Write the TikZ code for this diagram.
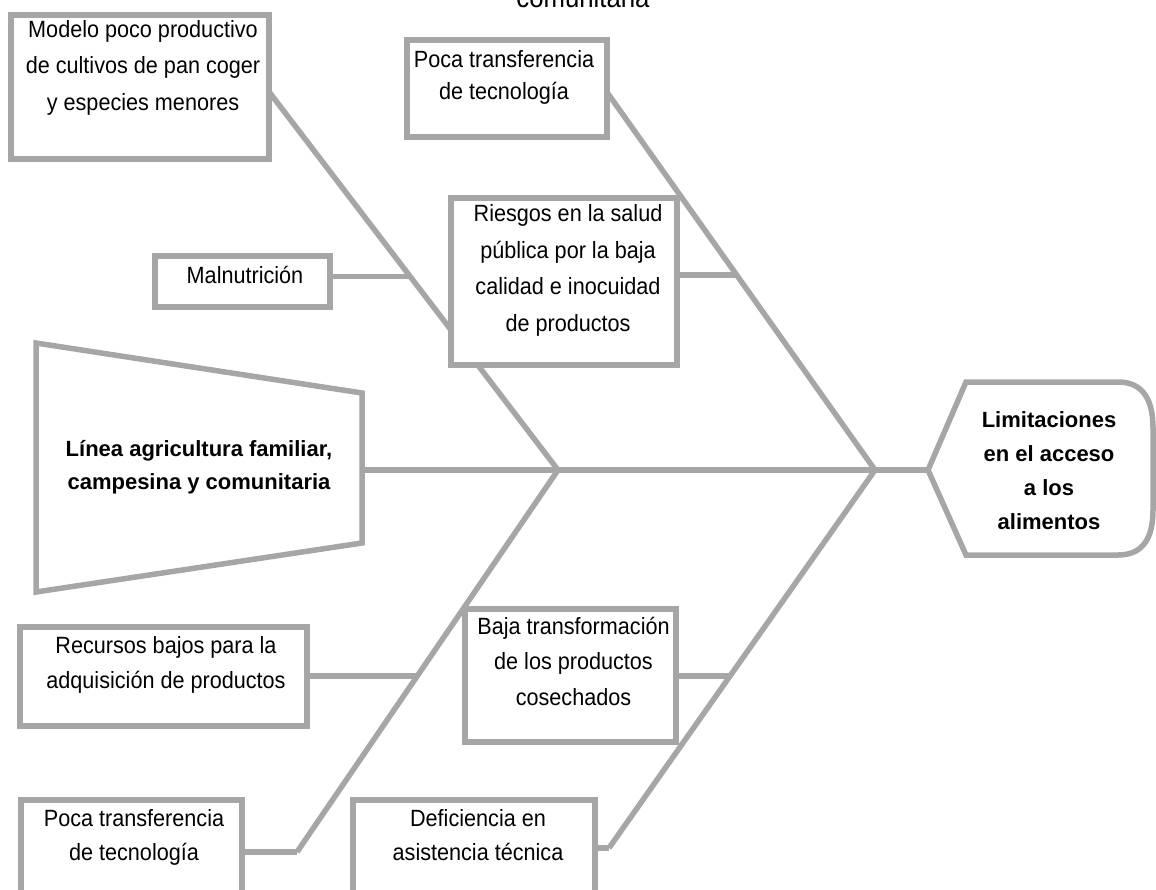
\documentclass[tikz,border=0pt]{standalone}
\usepackage{fontspec}
\setmainfont{Liberation Sans}
\newfontfamily\rnar[FakeStretch=0.92]{Liberation Sans}
\usetikzlibrary{calc}
\definecolor{lg}{HTML}{A6A6A6}
\newcommand{\fl}{\rule{0pt}{22pt}}
\tikzset{
  ln/.style={draw=lg, line width=5.5pt},
  txt/.style={inner sep=0pt, align=center, anchor=north, font=\rnar\fontsize{23.5}{35.5}\selectfont},
  btxt/.style={inner sep=0pt, align=center, anchor=north, font=\bfseries\fontsize{22}{34}\selectfont}
}
\begin{document}
\begin{tikzpicture}[x=1pt, y=-1pt]
\path[use as bounding box] (0,0) rectangle (1156,890);
\clip (0,0) rectangle (1156,890);

% title fragment
\node[anchor=base, inner sep=0pt, font=\rnar\fontsize{28}{30}\selectfont] (title) at (583,8) {comunitaria};

% key points
\coordinate (tr) at (362,470);
\coordinate (jl) at (558,470);
\coordinate (jr) at (875,470);
\coordinate (hx) at (928,470);
\coordinate (dl) at (297,852);
\coordinate (dr) at (609,848);

% boxes (geometry only, drawn after lines)
\path (140,87) node[minimum width=258pt, minimum height=144pt, inner sep=0pt] (box1) {};
\path (507,88.5) node[minimum width=200pt, minimum height=97pt, inner sep=0pt] (pocaT) {};
\path (564,281.5) node[minimum width=226pt, minimum height=167pt, inner sep=0pt] (ries) {};
\path (242.5,281.5) node[minimum width=175pt, minimum height=51pt, inner sep=0pt] (maln) {};
\path (163.5,676.5) node[minimum width=287pt, minimum height=99pt, inner sep=0pt] (recu) {};
\path (570.5,675.5) node[minimum width=211pt, minimum height=133pt, inner sep=0pt] (baja) {};
\path (131.5,853.5) node[minimum width=221pt, minimum height=107pt, inner sep=0pt] (pocaB) {};
\path (474,853.5) node[minimum width=242pt, minimum height=107pt, inner sep=0pt] (defi) {};

% branch points on diagonals
\coordinate (mB) at ($([yshift=-5pt]box1.east)!0.488!(jl)$);
\coordinate (rB) at ($([yshift=-4pt]pocaT.east)!0.484!(jr)$);
\coordinate (cB) at ($(jl)!0.539!(dl)$);
\coordinate (bB) at ($(jr)!0.545!(dr)$);

% spine and bones
\draw[ln] (tr) -- (jl) -- (jr) -- (hx);
\draw[ln] ([yshift=-5pt]box1.east) -- (jl) -- (dl);
\draw[ln] ([yshift=-4pt]pocaT.east) -- (jr) -- (dr);
\draw[ln] (mB -| maln.east) -- (mB);
\draw[ln] (rB -| ries.east) -- (rB);
\draw[ln] (cB -| recu.east) -- (cB);
\draw[ln] (bB -| baja.east) -- (bB);
\draw[ln] (pocaB.east |- dl) -- (dl);
\draw[ln] (defi.east |- dr) -- (dr);

% draw boxes
\foreach \b in {box1,pocaT,ries,maln,recu,baja,pocaB,defi}
  \draw[draw=lg, line width=5.5pt, fill=white] (\b.north west) rectangle (\b.south east);

% head trapezoid
\draw[ln, fill=white] (36,343) -- (tr |- 0,393) -- (tr |- 0,543) -- (36,592) -- cycle;
% effect shape
\draw[ln, fill=white] (hx) -- (966,382) -- (1118,382) .. controls (1143,382) and (1153,400) .. (1153,428)
  -- (1153,510) .. controls (1153,538) and (1143,555) .. (1118,555) -- (966,555) -- cycle;

% texts
\node[txt, font=\rnar\fontsize{23.5}{36.5}\selectfont] (t1) at (143,15) {\fl Modelo poco productivo\\de cultivos de pan coger\\y especies menores};
\node[txt, font=\rnar\fontsize{23.5}{32.5}\selectfont] (t2) at (504,45) {\fl Poca transferencia\\de tecnología};
\node[txt, font=\rnar\fontsize{23.5}{36.5}\selectfont] (t3) at (568,199.5) {\fl Riesgos en la salud\\pública por la baja\\calidad e inocuidad\\de productos};
\node[txt, anchor=base] (t4) at (245,283.5) {Malnutrición};
\node[btxt, font=\bfseries\fontsize{22}{33}\selectfont] (t5) at (199,434) {\fl Línea agricultura familiar,\\campesina y comunitaria};
\node[btxt] (t6) at (1049,405) {\fl Limitaciones\\en el acceso\\a los\\alimentos};
\node[txt, font=\rnar\fontsize{23.5}{35}\selectfont] (t7) at (166,631.5) {\fl Recursos bajos para la\\adquisición de productos};
\node[txt] (t8) at (573.5,612) {\fl Baja transformación\\de los productos\\cosechados};
\node[txt, font=\rnar\fontsize{23.5}{34}\selectfont] (t9) at (134,804.5) {\fl Poca transferencia\\de tecnología};
\node[txt, font=\rnar\fontsize{23.5}{34}\selectfont] (t10) at (478,804.5) {\fl Deficiencia en\\asistencia técnica};
\end{tikzpicture}
\end{document}
